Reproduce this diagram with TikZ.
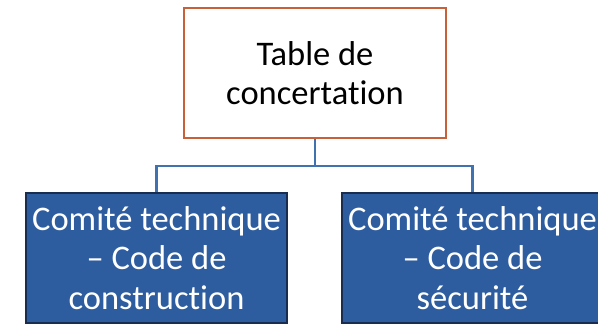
\documentclass[tikz,border=0pt]{standalone}
\usepackage{fontspec}
\setmainfont[Ligatures={NoCommon}]{Carlito}
\definecolor{orgline}{RGB}{200,96,58}
\definecolor{boxblue}{RGB}{46,93,159}
\definecolor{boxedge}{RGB}{24,45,80}
\definecolor{conn}{RGB}{65,114,176}
\begin{document}
\begin{tikzpicture}[x=1pt,y=1pt,
  topbox/.style={draw=orgline,line width=2.2pt,fill=white,minimum width=262pt,minimum height=130pt,align=center,inner sep=0pt,font=\fontsize{34.5}{39.5}\selectfont,text=black},
  childbox/.style={draw=boxedge,line width=2.2pt,fill=boxblue,minimum width=261pt,minimum height=130pt,align=center,inner sep=0pt,font=\fontsize{34.5}{39.5}\selectfont,text=white},
  link/.style={draw=conn,line width=2.2pt}]
\useasboundingbox (0,0) rectangle (598,-326);
\node[topbox] (top) at (315,-73) {Table de\\concertation};
\node[childbox] (left) at (156.5,-258) {Comité technique\\– Code de\\construction};
\node[childbox] (right) at (472.5,-258) {Comité technique\\– Code de\\sécurité};
\coordinate (mid) at (315,-166);
\draw[link] (top.south) -- (mid);
\draw[link] (left.north) |- (mid) -| (right.north);
\end{tikzpicture}
\end{document}
